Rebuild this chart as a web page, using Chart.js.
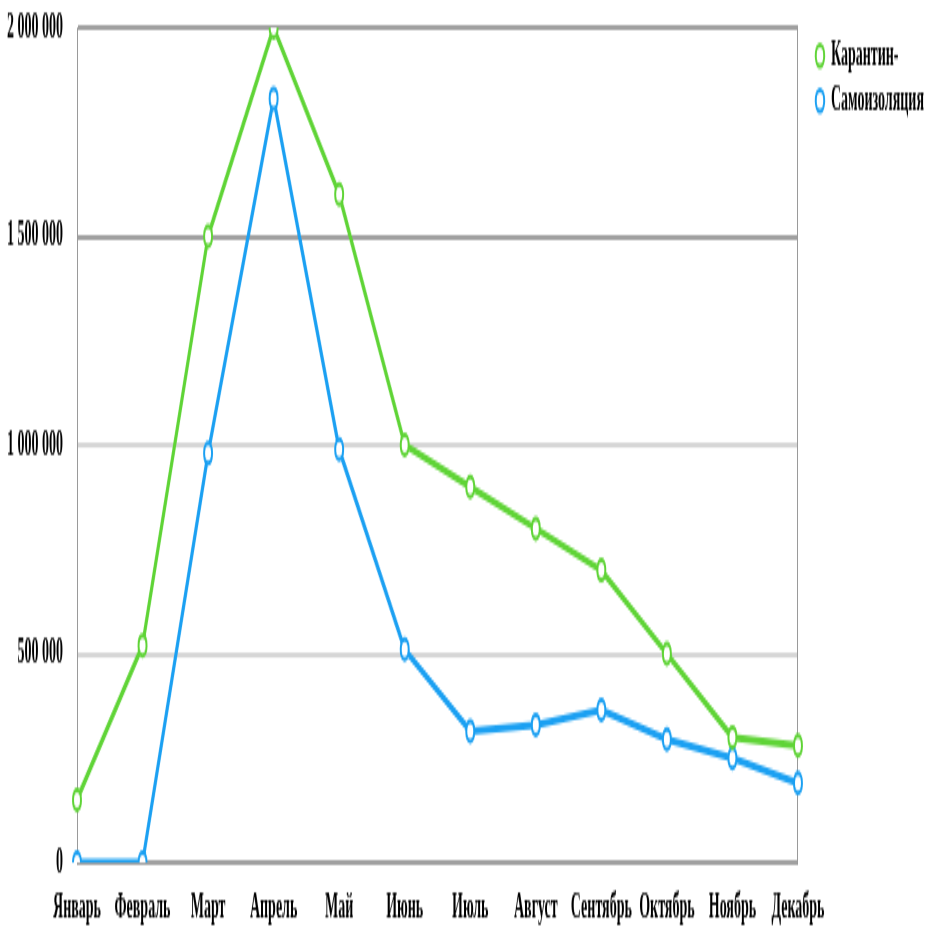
<!DOCTYPE html>
<html>
<head>
<meta charset="utf-8">
<script src="https://cdn.jsdelivr.net/npm/chart.js@4/dist/chart.umd.min.js"></script>
<style>
  html, body { margin: 0; padding: 0; background: #fff; }
  #wrap { width: 934px; height: 930px; overflow: hidden; }
  /* the source picture is a chart stretched vertically */
  #chart { transform: scaleY(2.5); transform-origin: 0 0; }
</style>
</head>
<body>
<div id="wrap"><canvas id="chart" width="934" height="372"></canvas></div>
<script>
const months = ["Январь", "Февраль", "Март", "Апрель", "Май", "Июнь", "Июль", "Август", "Сентябрь", "Октябрь", "Ноябрь", "Декабрь"];
const quarantine = [150000, 520000, 1500000, 2000000, 1600000, 1000000, 900000, 800000, 700000, 500000, 300000, 280000];
const selfIsolation = [0, 0, 980000, 1830000, 990000, 510000, 315000, 330000, 365000, 295000, 250000, 190000];
const yTicks = [0, 500000, 1000000, 1500000, 2000000];

const font = { family: "'Liberation Serif', 'Times New Roman', serif", size: 14, weight: "bold" };

const ctx = document.getElementById("chart");

new Chart(ctx, {
  type: "line",
  data: {
    labels: months,
    datasets: [
      {
        label: "Карантин-",
        data: quarantine,
        borderColor: "#5fd436",
        backgroundColor: "#ffffff",
        borderWidth: 3,
        pointRadius: 4,
        pointBorderWidth: 2,
        pointBackgroundColor: "#ffffff",
        pointBorderColor: "#5fd436",
        tension: 0,
      },
      {
        label: "Самоизоляция",
        data: selfIsolation,
        borderColor: "#1ba0f2",
        backgroundColor: "#ffffff",
        borderWidth: 3,
        pointRadius: 4,
        pointBorderWidth: 2,
        pointBackgroundColor: "#ffffff",
        pointBorderColor: "#1ba0f2",
        tension: 0,
      },
    ],
  },
  options: {
    responsive: false,
    animation: false,
    layout: { padding: 0 },
    plugins: {
      tooltip: { enabled: false },
      legend: {
        display: true,
        position: "right",
        align: "start",
        // empty title only pushes the items down
        title: { display: true, text: "", font: { size: 1 }, padding: { top: 10, bottom: 0 } },
        labels: {
          usePointStyle: true,
          pointStyle: "circle",
          boxWidth: 8,
          boxHeight: 6,
          padding: 4,
          color: "#000",
          font: font,
        },
      },
    },
    scales: {
      x: {
        offset: false,
        border: { display: false },
        grid: { display: false, drawTicks: false },
        ticks: {
          autoSkip: false,
          maxRotation: 0,
          padding: 10,
          color: "#000",
          font: font,
        },
        afterFit: (scale) => { scale.height = 27; },
      },
      y: {
        min: 0,
        max: 2000000,
        border: { display: true, color: "#9a9a9a", width: 1 },
        grid: {
          drawTicks: false,
          lineWidth: 2,
          color: (c) => {
            const v = c.tick ? c.tick.value : 0;
            return v === 1000000 || v === 500000 ? "#d6d6d6" : "#a0a0a0";
          },
        },
        afterBuildTicks: (scale) => {
          scale.ticks = yTicks.map((v) => ({ value: v }));
        },
        ticks: {
          padding: 14,
          color: "#000",
          font: font,
          callback: (v) => String(v).replace(/\B(?=(\d{3})+(?!\d))/g, " "),
        },
        afterFit: (scale) => {
          scale.width = 77;
          scale.paddingTop = 11;
          scale.paddingBottom = 0;
        },
      },
      // right frame line of the plot, also keeps the gap before the legend
      yRight: {
        position: "right",
        display: true,
        min: 0,
        max: 1,
        border: { display: true, color: "#9a9a9a", width: 1 },
        grid: { display: false, drawTicks: false },
        ticks: { display: false },
        afterFit: (scale) => { scale.width = 14; },
      },
    },
  },
});
</script>
</body>
</html>
